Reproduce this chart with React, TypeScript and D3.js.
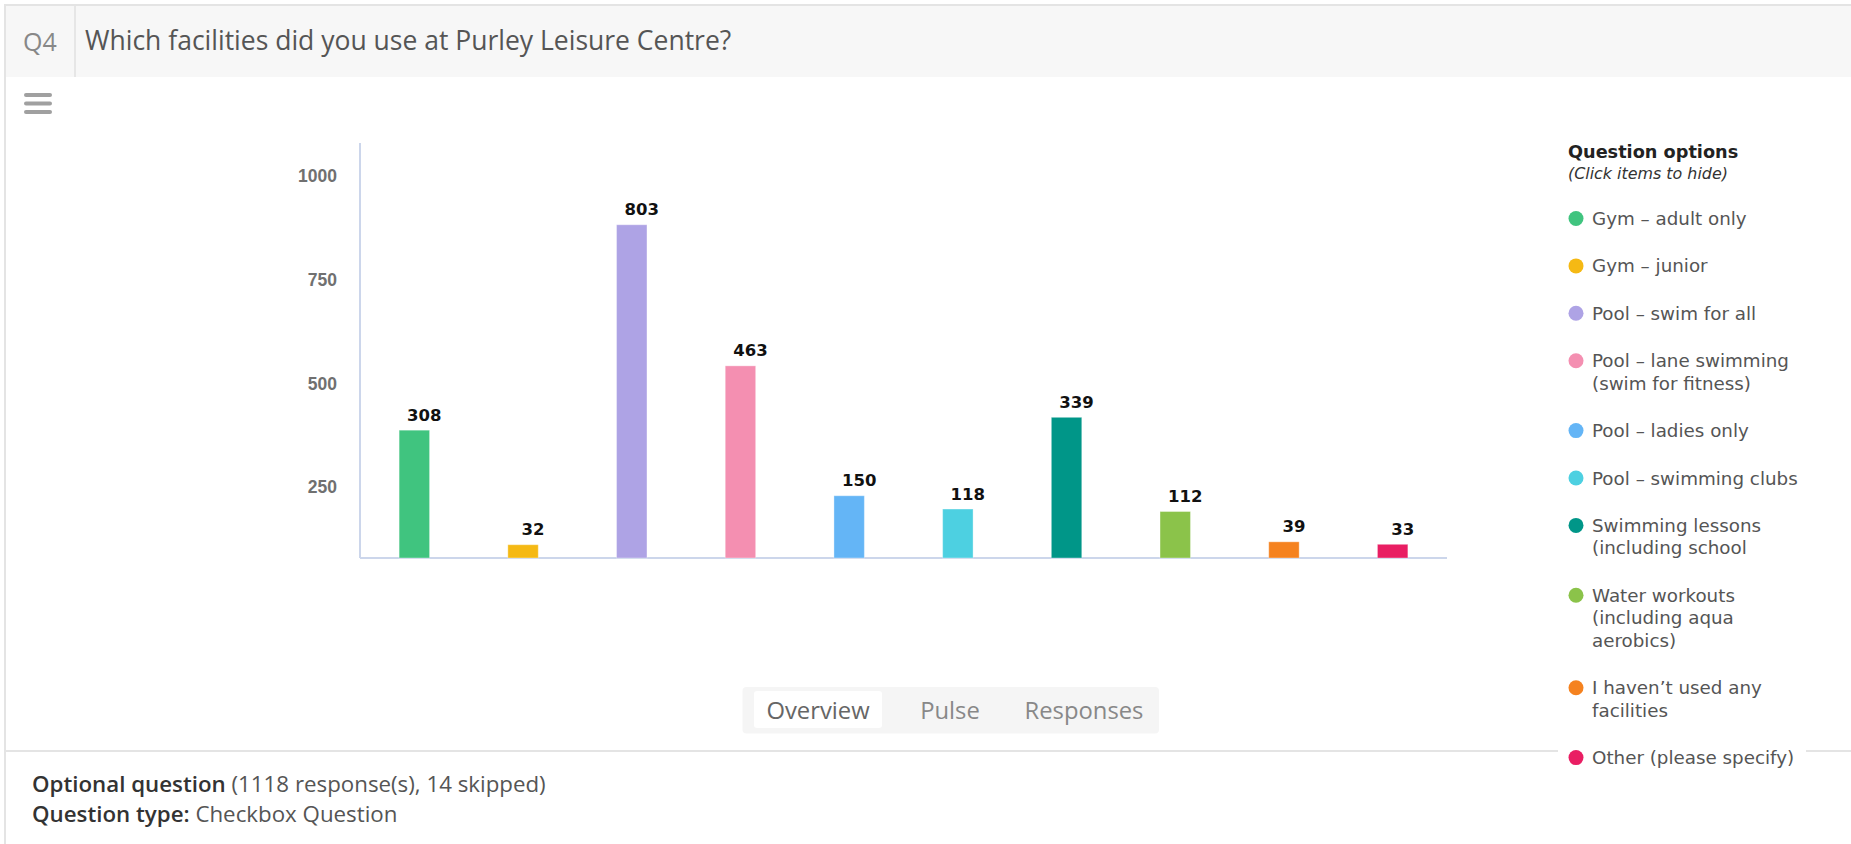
import React from "react";
import * as d3 from "d3";

const categories = [
  "Gym – adult only",
  "Gym – junior",
  "Pool – swim for all",
  "Pool – lane swimming\n(swim for fitness)",
  "Pool – ladies only",
  "Pool – swimming clubs",
  "Swimming lessons\n(including school",
  "Water workouts\n(including aqua\naerobics)",
  "I haven’t used any\nfacilities",
  "Other (please specify)",
];
const values = [308, 32, 803, 463, 150, 118, 339, 112, 39, 33];
const colors = [
  "#40c47f",
  "#f5b914",
  "#aea3e5",
  "#f48fb1",
  "#64b5f6",
  "#4dd0e1",
  "#009688",
  "#8bc34a",
  "#f5821f",
  "#e91e63",
];
const yTicks = [250, 500, 750, 1000];
const tabs = ["Overview", "Pulse", "Responses"];

const W = 1851;
const H = 844;

export default function App() {
  const plot = { left: 360, right: 1447, top: 143, bottom: 558 };
  const x = d3
    .scaleBand<string>()
    .domain(categories)
    .range([plot.left, plot.right])
    .paddingInner(0.72)
    .paddingOuter(0.36);
  const y = d3.scaleLinear().domain([0, 1000]).range([plot.bottom, plot.top]);

  // legend layout
  const lineH = 22.5;
  const gap = 24.9;
  let cy = 218.5;
  const legendItems = categories.map((c, i) => {
    const lines = c.split("\n");
    const item = { lines, y: cy, color: colors[i] };
    cy += lines.length * lineH + gap;
    return item;
  });

  const sans = "'Open Sans', sans-serif";
  const dv = "'DejaVu Sans', Verdana, sans-serif";

  const tabX = [818, 950, 1084];

  return (
    <div style={{ position: "absolute", left: 0, top: 0 }}>
      <svg width={W} height={H} style={{ display: "block", background: "#fff" }}>
        {/* card borders */}
        <rect x={5} y={4} width={W} height={2} fill="#e4e4e4" />
        <rect x={6} y={6} width={W} height={71} fill="#f7f7f7" />
        <rect x={4} y={4} width={2} height={H} fill="#e4e4e4" />
        <line x1={75} x2={75} y1={6} y2={77} stroke="#e0e0e0" strokeWidth={1.5} />
        <text x={23} y={51} fontFamily={sans} fontSize={25} fill="#888">
          Q4
        </text>
        <text x={85} y={50} fontFamily={sans} fontSize={26.5} fill="#555">
          Which facilities did you use at Purley Leisure Centre?
        </text>
        {/* hamburger */}
        {[0, 1, 2].map((k) => (
          <rect key={k} x={24} y={93 + k * 8.5} width={28} height={4} rx={2} fill="#a0a0a0" />
        ))}

        {/* axes */}
        <line x1={plot.left} x2={plot.left} y1={plot.top} y2={plot.bottom} stroke="#ccd6eb" strokeWidth={2} />
        <line x1={plot.left} x2={plot.right} y1={plot.bottom} y2={plot.bottom} stroke="#ccd6eb" strokeWidth={2} />
        {yTicks.map((t) => (
          <text
            key={t}
            x={337}
            y={y(t) + 33}
            dy="0.35em"
            textAnchor="end"
            fontFamily="'Liberation Sans', Arial, sans-serif"
            fontWeight="bold"
            fontSize={17.5}
            fill="#707070"
          >
            {t}
          </text>
        ))}

        {/* bars */}
        {categories.map((c, i) => {
          const bx = x(c)!;
          const bw = x.bandwidth();
          return (
            <g key={c}>
              <rect
                x={bx}
                y={y(values[i])}
                width={bw}
                height={plot.bottom - y(values[i])}
                fill={colors[i]}
                stroke="#fff"
                strokeOpacity={0.35}
                strokeWidth={1}
              />
              <text
                x={bx + bw / 2 + 10}
                y={y(values[i]) - 9.5}
                textAnchor="middle"
                fontFamily={dv}
                fontWeight="bold"
                fontSize={16.5}
                fill="#111"
              >
                {values[i]}
              </text>
            </g>
          );
        })}

        {/* tabs */}
        <rect x={742.5} y={687} width={416.5} height={46.5} rx={4} fill="#f5f5f5" />
        <rect x={754} y={691} width={128} height={37} rx={3} fill="#fff" />
        {tabs.map((t, i) => (
          <text
            key={t}
            x={tabX[i]}
            y={719}
            textAnchor="middle"
            fontFamily={sans}
            fontSize={23.8}
            fill={i === 0 ? "#666" : "#888"}
          >
            {t}
          </text>
        ))}

        {/* separator line */}
        <rect x={6} y={750} width={W} height={2} fill="#e4e4e4" />

        {/* footer */}
        <text x={32} y={792} fontFamily={sans} fontSize={22.3} fill="#555">
          <tspan fontWeight={600} fill="#333">Optional question</tspan>
          <tspan> (1118 response(s), 14 skipped)</tspan>
        </text>
        <text x={32} y={822} fontFamily={sans} fontSize={22.3} fill="#555">
          <tspan fontWeight={600} fill="#333">Question type:</tspan>
          <tspan> Checkbox Question</tspan>
        </text>

        {/* legend */}
        <text x={1568} y={158} fontFamily={dv} fontWeight="bold" fontSize={17.7} fill="#222">
          Question options
        </text>
        <text x={1568} y={179} fontFamily={dv} fontStyle="italic" fontSize={15.9} fill="#333">
          (Click items to hide)
        </text>
        {legendItems.map((it, i) => (
          <g key={i}>
            {i === legendItems.length - 1 && (
              <rect x={1558} y={it.y - 18} width={248} height={36} fill="#fff" />
            )}
            <circle cx={1576} cy={it.y} r={7.5} fill={it.color} />
            <text x={1592} y={it.y} fontFamily={dv} fontSize={18.3} fill="#555">
              {it.lines.map((l, k) => (
                <tspan key={k} x={1592} dy={k === 0 ? "0.36em" : lineH}>
                  {l}
                </tspan>
              ))}
            </text>
          </g>
        ))}
      </svg>
    </div>
  );
}
